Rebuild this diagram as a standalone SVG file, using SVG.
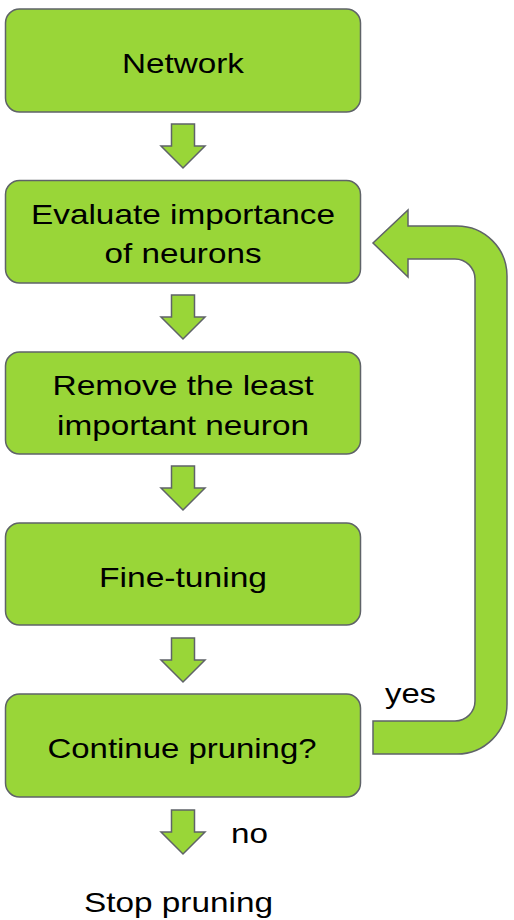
<svg xmlns="http://www.w3.org/2000/svg" xmlns:xlink="http://www.w3.org/1999/xlink" width="514" height="920" viewBox="0 0 514 920">
  <style>
    .box { fill: #99d638; stroke: #5f6368; stroke-width: 1.5; }
    .arr { fill: #99d638; stroke: #5f6368; stroke-width: 1.5; stroke-linejoin: miter; }
    .t { font-family: "Liberation Sans", Arial, sans-serif; font-size: 28px; fill: #000; }
    .c { text-anchor: middle; }
  </style>
  <defs>
    <path id="down" d="M-11.5,0 H11.5 V22 H22 L0,44 L-22,22 H-11.5 Z"/>
  </defs>
  <rect width="514" height="920" fill="#ffffff"/>

  <g id="connectors">
    <use xlink:href="#down" class="arr" x="183" y="124"/>
    <use xlink:href="#down" class="arr" x="183" y="295"/>
    <use xlink:href="#down" class="arr" x="183" y="466"/>
    <use xlink:href="#down" class="arr" x="183" y="638"/>
    <use xlink:href="#down" class="arr" x="183" y="810"/>
    <path class="arr" d="M373,754 H457 A50,50 0 0 0 507,704 V276 A50,50 0 0 0 457,226 H408 V210 L373,243 L408,277 V259 H455 A20,20 0 0 1 475,279 V701 A20,20 0 0 1 455,721 H373 Z"/>
    <text class="t" x="385" y="703" textLength="51" lengthAdjust="spacingAndGlyphs">yes</text>
    <text class="t" x="231" y="843" textLength="37" lengthAdjust="spacingAndGlyphs">no</text>
  </g>

  <g id="network">
    <rect class="box" x="5.5" y="9" width="355" height="103" rx="14"/>
    <text class="t c" x="183" y="73" textLength="122" lengthAdjust="spacingAndGlyphs">Network</text>
  </g>
  <g id="evaluate">
    <rect class="box" x="5.5" y="180.5" width="355" height="102.5" rx="14"/>
    <text class="t c" x="183" y="224" textLength="304" lengthAdjust="spacingAndGlyphs">Evaluate importance</text>
    <text class="t c" x="183" y="263" textLength="157" lengthAdjust="spacingAndGlyphs">of neurons</text>
  </g>
  <g id="remove">
    <rect class="box" x="5.5" y="352" width="355" height="102" rx="14"/>
    <text class="t c" x="183" y="395" textLength="261" lengthAdjust="spacingAndGlyphs">Remove the least</text>
    <text class="t c" x="183" y="435" textLength="252" lengthAdjust="spacingAndGlyphs">important neuron</text>
  </g>
  <g id="finetuning">
    <rect class="box" x="5.5" y="523" width="355" height="102" rx="14"/>
    <text class="t c" x="183" y="587" textLength="168" lengthAdjust="spacingAndGlyphs">Fine-tuning</text>
  </g>
  <g id="continue">
    <rect class="box" x="5.5" y="694" width="355" height="103" rx="14"/>
    <text class="t c" x="182" y="758" textLength="269" lengthAdjust="spacingAndGlyphs">Continue pruning?</text>
  </g>
  <g id="stop">
    <text class="t" x="84" y="912" textLength="189" lengthAdjust="spacingAndGlyphs">Stop pruning</text>
  </g>
</svg>
